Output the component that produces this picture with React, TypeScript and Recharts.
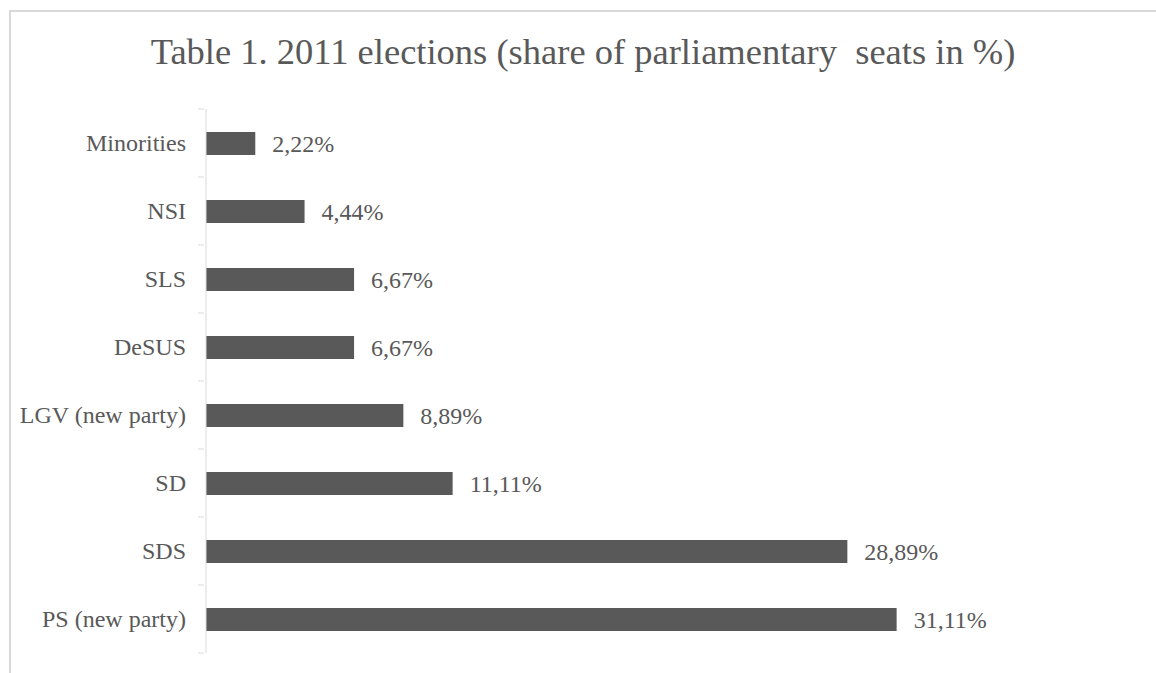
import React from 'react';
import { BarChart, Bar, XAxis, YAxis, LabelList } from 'recharts';

const parties = ['Minorities', 'NSI', 'SLS', 'DeSUS', 'LGV (new party)', 'SD', 'SDS', 'PS (new party)'];
const seatShare = [2.22, 4.44, 6.67, 6.67, 8.89, 11.11, 28.89, 31.11];

const data = parties.map((party, i) => ({ party, share: seatShare[i] }));

const W = 1156;
const H = 673;
const margin = { top: 109, right: 173, bottom: 20, left: 0 };
const band = (H - margin.top - margin.bottom) / parties.length;
const grey = '#595959';
const font = '"Liberation Serif", "Times New Roman", serif';

function PartyTick(props: any) {
  const { x, y, payload, index } = props;
  const last = index === parties.length - 1;
  return (
    <g>
      <line x1={x} x2={x + 6} y1={y - band / 2} y2={y - band / 2} stroke="#d9d9d9" />
      {last && <line x1={x} x2={x + 6} y1={y + band / 2} y2={y + band / 2} stroke="#d9d9d9" />}
      <text x={x - 12} y={y} dy={8} textAnchor="end" fill={grey} fontSize={24} fontFamily={font}>
        {payload.value}
      </text>
    </g>
  );
}

export default function App() {
  return (
    <div style={{ position: 'absolute', left: 0, top: 0, width: W, height: H, background: '#fff' }}>
      <div
        style={{
          position: 'absolute',
          left: 9,
          top: 10,
          right: 0,
          bottom: 0,
          borderTop: '2px solid #d9d9d9',
          borderLeft: '2px solid #d9d9d9',
        }}
      />
      <div
        style={{
          position: 'absolute',
          left: 0,
          width: 1166,
          top: 34,
          lineHeight: 1,
          textAlign: 'center',
          fontFamily: font,
          fontSize: 36.5,
          color: grey,
          whiteSpace: 'pre',
        }}
      >
        {'Table 1. 2011 elections (share of parliamentary  seats in %)'}
      </div>
      <BarChart
        width={W}
        height={H}
        data={data}
        layout="vertical"
        margin={margin}
        style={{ position: 'absolute', left: 0, top: 0 }}
      >
        <XAxis type="number" domain={[0, 35]} hide />
        <YAxis
          type="category"
          dataKey="party"
          width={206}
          axisLine={{ stroke: '#d9d9d9' }}
          tickLine={false}
          tick={<PartyTick />}
          interval={0}
        />
        <Bar dataKey="share" fill={grey} barSize={23} isAnimationActive={false}>
          <LabelList
            dataKey="share"
            position="right"
            offset={17}
            formatter={(v: any) => `${Number(v).toFixed(2).replace('.', ',')}%`}
            style={{ fill: grey, fontSize: 24, fontFamily: font }}
          />
        </Bar>
      </BarChart>
    </div>
  );
}
